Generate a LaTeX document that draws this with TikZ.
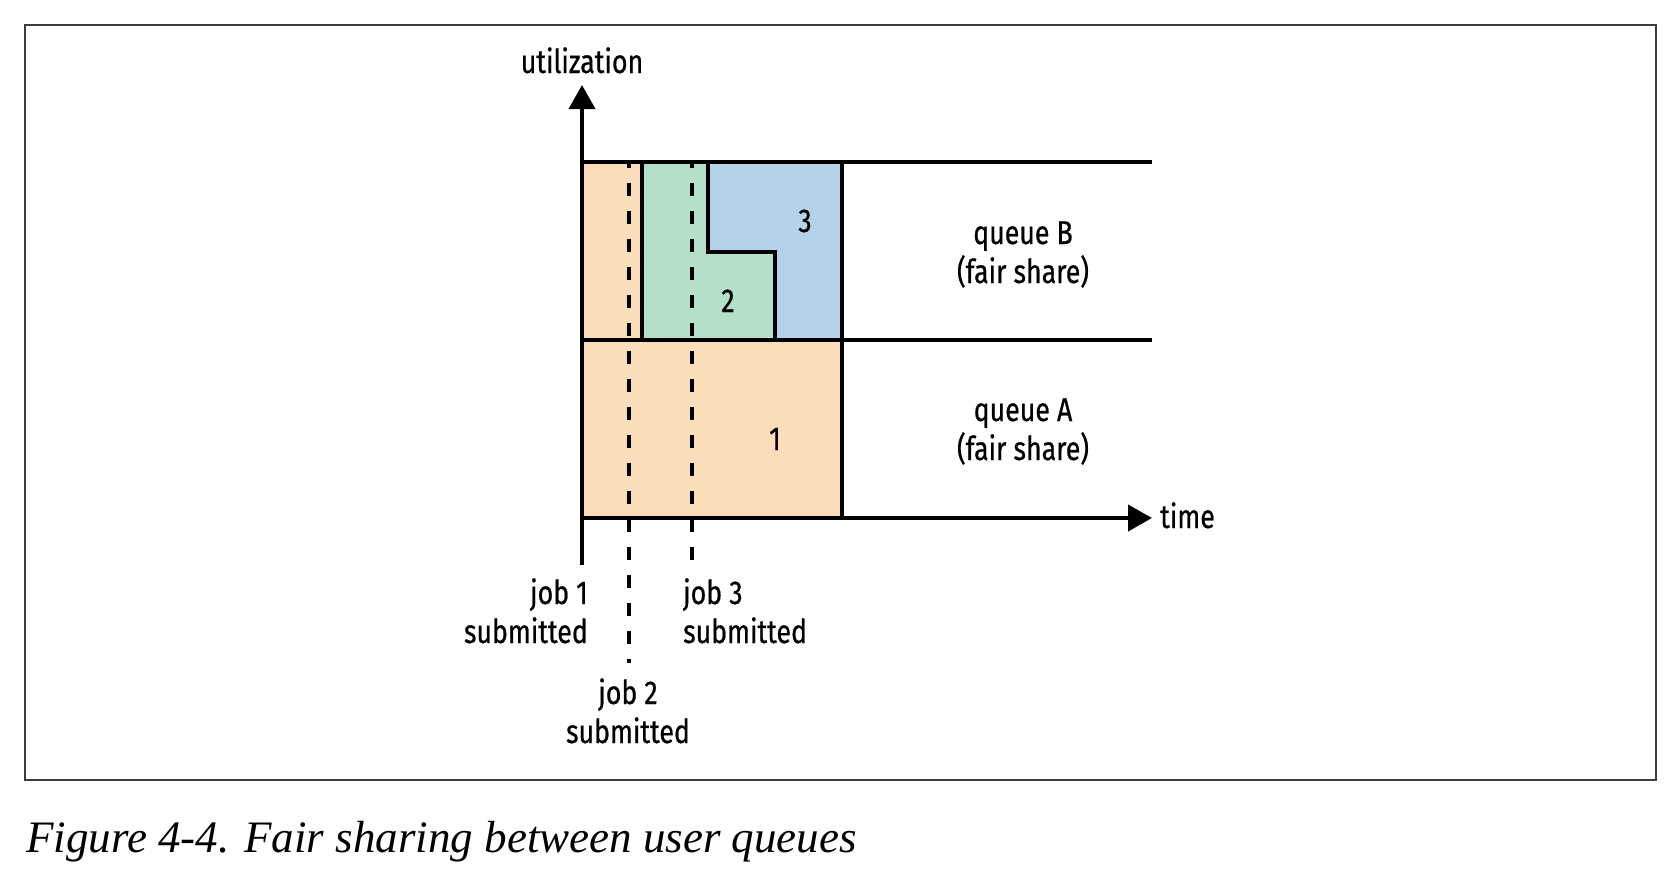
\documentclass[tikz,border=0pt]{standalone}
\usepackage{fontspec}
\setmainfont[FakeStretch=0.81,FakeBold=0.6]{Fira Sans}
\newfontfamily\capfont{Liberation Serif}
\usetikzlibrary{arrows.meta}
\definecolor{peach}{RGB}{252,221,185}
\definecolor{mint}{RGB}{180,223,200}
\definecolor{sky}{RGB}{180,211,234}
\definecolor{framegray}{RGB}{60,60,60}
\begin{document}
\begin{tikzpicture}[x=1pt,y=-1pt,
  lbl/.style={font=\fontsize{33}{39}\selectfont, inner sep=0pt, anchor=base},
  bold/.style={line width=4pt},
  dashline/.style={line width=4pt, dash pattern=on 13pt off 15pt, dash phase=7pt},
  axisarrow/.style={line width=4pt, -{Triangle[length=24pt,width=26pt]}}]
\useasboundingbox (0,0) rectangle (1674,878);
\draw[line width=1.5pt, framegray] (25,25) rectangle (1656,780);

% coordinates
\coordinate (O) at (582,518);
\coordinate (Ytop) at (582,85);
\coordinate (Ybot) at (582,565);
\coordinate (Xend) at (1152,518);
\coordinate (TL) at (582,162);
\coordinate (TR) at (1152,162);
\coordinate (ML) at (582,340);
\coordinate (MR) at (1152,340);
\coordinate (d1t) at (629,162);
\coordinate (d1b) at (629,663);
\coordinate (d2t) at (692,162);
\coordinate (d2b) at (692,563);

% fills
\fill[peach] (582,162) rectangle (642,340);
\fill[peach] (582,340) rectangle (842,518);
\fill[mint] (642,162) -- (708,162) -- (708,252) -- (775,252) -- (775,340) -- (642,340) -- cycle;
\fill[sky] (708,162) -- (842,162) -- (842,340) -- (775,340) -- (775,252) -- (708,252) -- cycle;

% dashed submission lines
\draw[dashline] (d1t) -- (d1b);
\draw[dashline] (d2t) -- (d2b);

% boundaries
\draw[bold] (642,162) -- (642,340);
\draw[bold, line join=miter] (708,162) -- (708,252) -- (775,252) -- (775,340);
\draw[bold] (842,162) -- (842,518);
\draw[bold] (TL) -- (TR);
\draw[bold] (ML) -- (MR);

% axes
\draw[axisarrow] (Ybot) -- (Ytop);
\draw[axisarrow] (O) -- (Xend);

% labels
\node[lbl] (util) at (582,73) {utilization};
\node[lbl, anchor=base west] (time) at (1160,528) {time};
\node[lbl] (n1) at (775,450) {1};
\node[lbl] (n2) at (728,312) {2};
\node[lbl] (n3) at (805,232) {3};
\node[lbl, align=center] (qB) at (1023,283) {queue B\\(fair share)};
\node[lbl, align=center] (qA) at (1023,460) {queue A\\(fair share)};
\node[lbl, align=right, anchor=base east] (j1) at (588,643) {job 1\\submitted};
\node[lbl, align=left, anchor=base west] (j3) at (683,643) {job 3\\submitted};
\node[lbl, align=center] (j2) at (628,743) {job 2\\submitted};

% caption
\node[inner sep=0pt, anchor=base west, font=\capfont\itshape\fontsize{45}{50}\selectfont] (cap) at (26,852) {Figure 4-4. Fair sharing between user queues};
\end{tikzpicture}
\end{document}
